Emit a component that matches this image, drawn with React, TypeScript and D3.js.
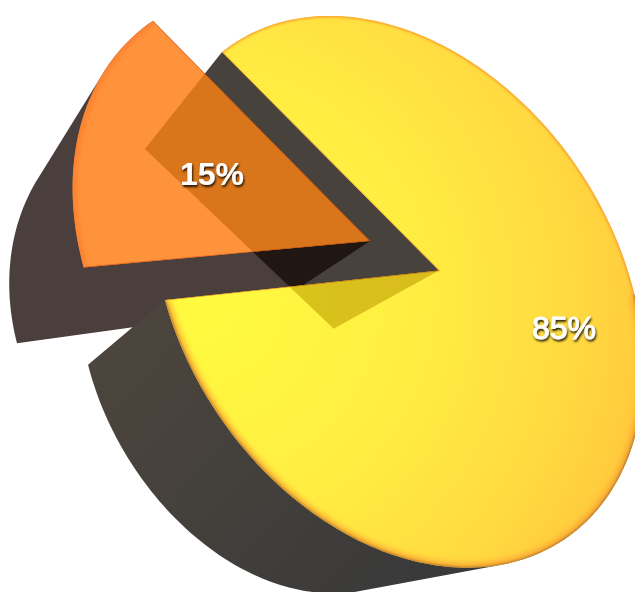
import React from "react";
import * as d3 from "d3";

const sliceNames = ["small", "large"];
const sliceValues = [15, 85];
const sliceLabels = ["15%", "85%"];

// Camera calibration: where four points of the unit circle land on the screen
const CAL_SCREEN: [number, number][] = [[222, 52], [165, 300], [627, 460], [621, 251]];
const VANISH: [number, number] = [-256, 654];
const DEPTH = 0.1786;
const SMALL_DEPTH = 0.187;
const SMALL_SPREAD = 0.014;
const TILT = 0.06;
const SAG = 14;
const EXPLODE = 0.28;
const SMALL_RADIUS = 0.947;
const LABEL_POS: [number, number][] = [[212, 185], [564, 339]];

function solve(A: number[][], b: number[]): number[] {
  const n = b.length;
  const M = A.map((r, i) => [...r, b[i]]);
  for (let c = 0; c < n; c++) {
    let p = c;
    for (let r = c + 1; r < n; r++) if (Math.abs(M[r][c]) > Math.abs(M[p][c])) p = r;
    [M[c], M[p]] = [M[p], M[c]];
    for (let r = 0; r < n; r++) {
      if (r === c) continue;
      const f = M[r][c] / M[c][c];
      for (let k = c; k <= n; k++) M[r][k] -= f * M[c][k];
    }
  }
  return M.map((r, i) => r[n] / r[i]);
}

const pie = d3.pie<number>().sort(null).startAngle(0).endAngle(2 * Math.PI);
const arcs = pie(sliceValues);
const a0 = arcs[0].startAngle;
const a1 = arcs[0].endAngle;
const calAngles = [a0, a1, a0 + Math.PI, a1 + Math.PI];
const sysA: number[][] = [];
const sysB: number[] = [];
calAngles.forEach((t, i) => {
  const u = Math.cos(t), v = Math.sin(t);
  const [x, y] = CAL_SCREEN[i];
  sysA.push([u, v, 1, 0, 0, 0, -x * u, -x * v]);
  sysB.push(x);
  sysA.push([0, 0, 0, u, v, 1, -y * u, -y * v]);
  sysB.push(y);
});
const H = solve(sysA, sysB);

type P = [number, number];
function project(u: number, v: number, d = 0): P {
  const X = H[0] * u + H[1] * v + H[2] + d * VANISH[0];
  const Y = H[3] * u + H[4] * v + H[5] + d * VANISH[1];
  const W = H[6] * u + H[7] * v + 1 + d;
  return [X / W, Y / W];
}

const line = d3.line<P>();
const path = (pts: P[], close = true) => (line(pts) as string) + (close ? "Z" : "");

function sagAt(t: number) {
  const s = Math.sin((t - a1) * 0.7);
  return t > a1 && t < a1 + Math.PI / 0.7 ? s * s : 0;
}

function sliceGeom(start: number, end: number, cu: number, cv: number, r: number, depth: number) {
  const n = Math.ceil((end - start) / 0.02);
  const ts = d3.range(n + 1).map((i) => start + ((end - start) * i) / n);
  return {
    ts,
    top: ts.map((t) => project(cu + r * Math.cos(t), cv + r * Math.sin(t), 0)),
    bot: ts.map((t) => project(cu + r * Math.cos(t), cv + r * Math.sin(t), depth)),
    botT: ts.map((t): P => {
      const p = project(cu + r * Math.cos(t), cv + r * Math.sin(t), depth + TILT * sagAt(t));
      return [p[0], p[1] + SAG * sagAt(t)];
    }),
    apexTop: project(cu, cv, 0),
    apexBot: project(cu, cv, depth),
  };
}

const mid = (a0 + a1) / 2;
const small = sliceGeom(arcs[0].startAngle - SMALL_SPREAD, arcs[0].endAngle + SMALL_SPREAD, EXPLODE * Math.cos(mid), EXPLODE * Math.sin(mid), SMALL_RADIUS, SMALL_DEPTH);
const large = sliceGeom(arcs[1].startAngle, arcs[1].endAngle, 0, 0, 1, DEPTH);

const last = large.top.length - 1;
const smallFace = [small.apexTop, ...small.top];
const largeFace = [large.apexTop, ...large.top];
const smallHull = d3.polygonHull([...smallFace, small.apexBot, ...small.bot]) as P[];
const backWall: P[] = [large.top[last], large.apexTop, large.apexBot, large.bot[last]];
const sideIdx = large.ts.map((t, i) => (t - a1 < (170 * Math.PI) / 180 ? i : -1)).filter((i) => i >= 0);
const sideHull = d3.polygonHull(sideIdx.flatMap((i) => [large.top[i], large.botT[i]])) as P[];
const lowerRim = sideIdx.map((i) => large.top[i]);
const upperRim = large.top.slice(sideIdx.length - 1);

export default function App() {
  return (
    <svg width={635} height={592} viewBox="0 0 635 592" style={{ position: "absolute", left: 0, top: 0, display: "block" }} data-names={sliceNames.join(",")}>
      <defs>
        <radialGradient id="yel" gradientUnits="userSpaceOnUse" cx={200} cy={300} r={470}>
          <stop offset="0" stopColor="#fffb40" />
          <stop offset="0.45" stopColor="#ffee42" />
          <stop offset="0.8" stopColor="#ffd940" />
          <stop offset="1" stopColor="#ffc63c" />
        </radialGradient>
        <linearGradient id="wallY" gradientUnits="userSpaceOnUse" x1={120} y1={340} x2={400} y2={590}>
          <stop offset="0" stopColor="#4c453d" />
          <stop offset="1" stopColor="#3a3a3a" />
        </linearGradient>
        <filter id="blur3" x="-10%" y="-10%" width="120%" height="120%"><feGaussianBlur stdDeviation={3} /></filter>
        <filter id="blur1" x="-10%" y="-10%" width="120%" height="120%"><feGaussianBlur stdDeviation={1.2} /></filter>
        <filter id="txt" x="-20%" y="-20%" width="140%" height="150%">
          <feDropShadow dx={1} dy={2} stdDeviation={1} floodColor="#000" floodOpacity={0.85} />
        </filter>
        <clipPath id="clipS"><path d={path(smallFace)} /></clipPath>
        <clipPath id="clipL"><path d={path(largeFace)} /></clipPath>
        <clipPath id="clipBoth"><path d={path(smallFace) + path(largeFace)} /></clipPath>
        <clipPath id="clipHull"><path d={path(smallHull)} /></clipPath>
      </defs>

      <path d={path(smallHull)} fill="#4a3f3c" />
      <path d={path(backWall)} fill="#47433c" />
      <path d={path(backWall)} fill="#211712" clipPath="url(#clipHull)" />
      <path d={path(sideHull)} fill="url(#wallY)" />

      <path d={path(smallFace)} fill="#ff933c" />
      <g clipPath="url(#clipS)">
        <path d={path(small.top, false)} fill="none" stroke="#fb7a2c" strokeWidth={6} filter="url(#blur3)" />
        <path d={path([small.top[small.top.length - 1], small.apexTop, small.top[0]], false)} fill="none" stroke="#e9601c" strokeWidth={1.2} />
      </g>

      <path d={path(largeFace)} fill="url(#yel)" />
      <g clipPath="url(#clipL)">
        <path d={path(lowerRim, false)} fill="none" stroke="#f9a032" strokeWidth={8} filter="url(#blur3)" />
        <path d={path(upperRim, false)} fill="none" stroke="#f9a032" strokeWidth={3} filter="url(#blur1)" />
        <path d={path(lowerRim, false)} fill="none" stroke="#4a3a2a" strokeWidth={1.6} filter="url(#blur1)" opacity={0.55} />
        <path d={path([large.top[last], large.apexTop, large.top[0]], false)} fill="none" stroke="#f08a1c" strokeWidth={1.2} />
      </g>

      <path d={path(backWall)} fill="#d9cb6e" clipPath="url(#clipBoth)" style={{ mixBlendMode: "multiply" }} />

      {sliceLabels.map((s, i) => (
        <text key={s} x={LABEL_POS[i][0]} y={LABEL_POS[i][1]} textAnchor="middle" fontFamily="Liberation Sans, Arial, sans-serif" fontWeight={i === 0 ? 700 : 400} fontSize={32} fill="#fff" stroke={i === 1 ? "#fff" : "none"} strokeWidth={i === 1 ? 0.9 : 0} filter="url(#txt)">{s}</text>
      ))}
    </svg>
  );
}
